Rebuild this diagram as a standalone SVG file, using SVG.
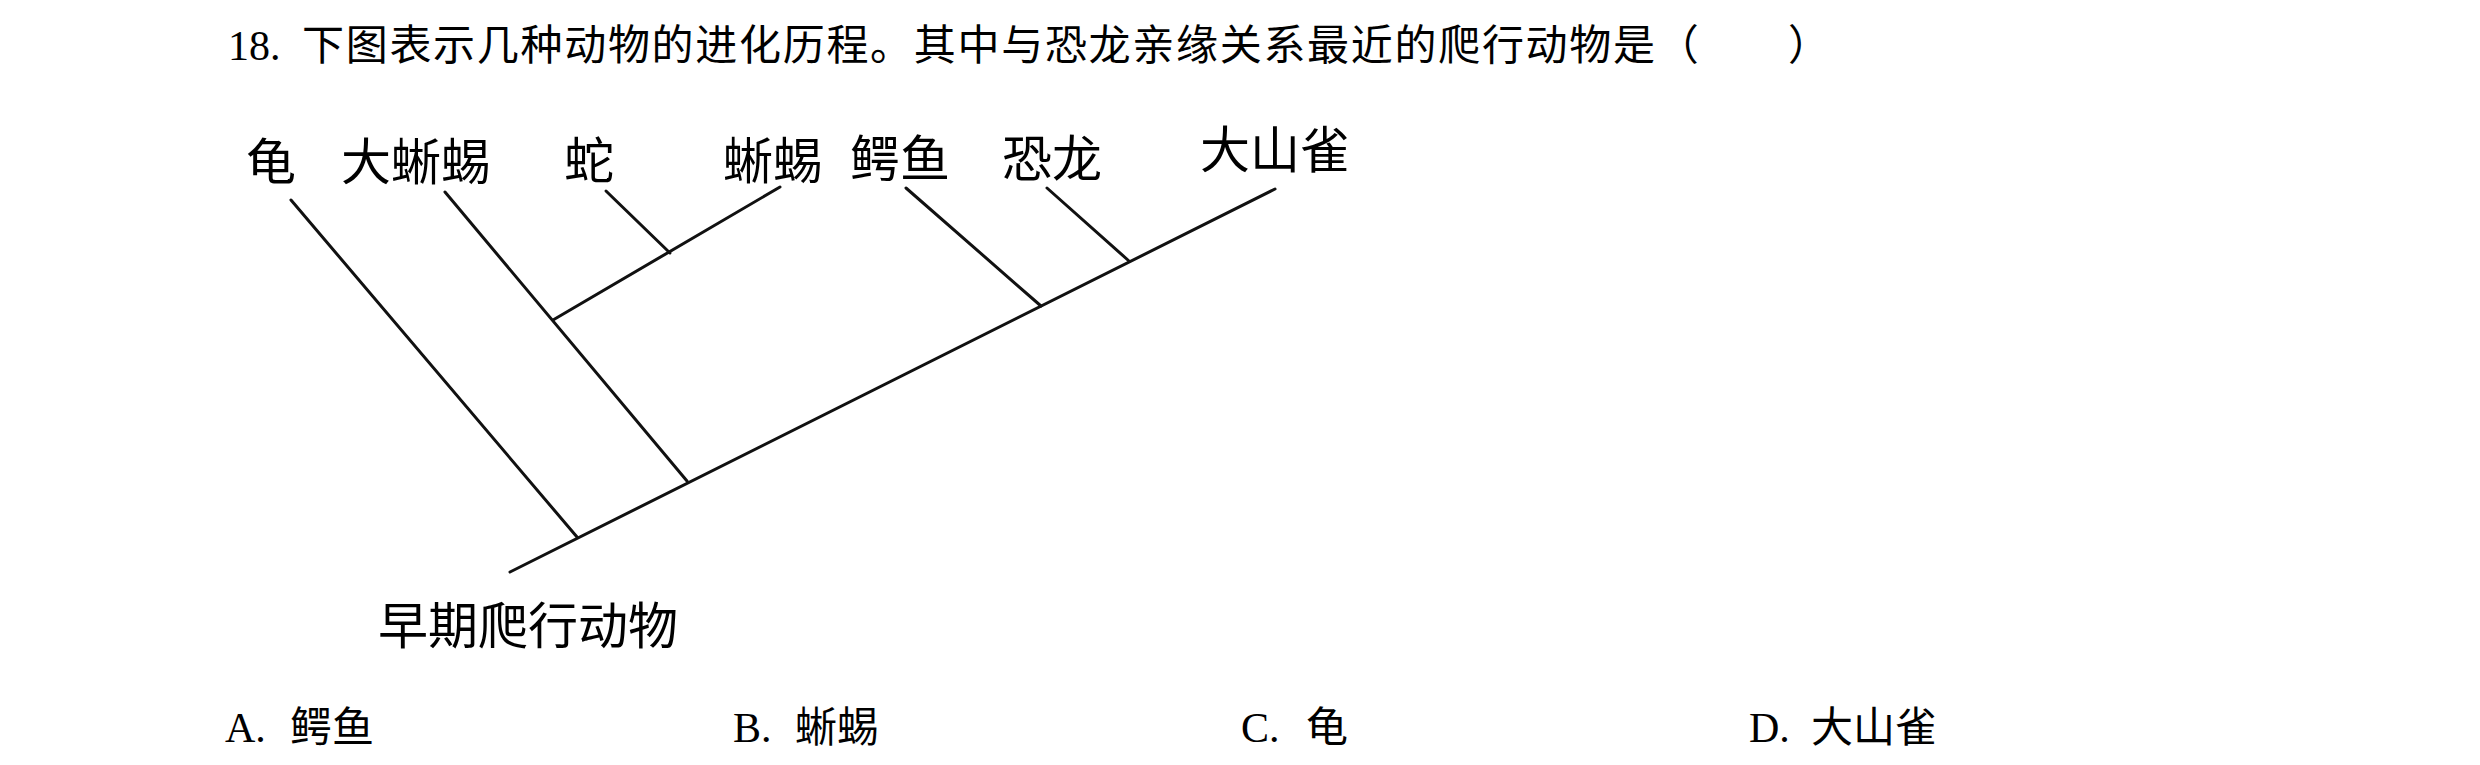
<svg xmlns="http://www.w3.org/2000/svg" width="2480" height="765" viewBox="0 0 2480 765">
<style>
.q{font-family:"Liberation Serif","Noto Sans CJK SC",serif;font-size:42px;fill:#000}
.cj{letter-spacing:1.7px}
.lb{font-family:"Noto Sans CJK SC","Noto Sans CJK TC",sans-serif;font-size:50px;font-weight:400;fill:#000}
.ln{stroke:#111;stroke-width:3;stroke-linecap:round;fill:none}
</style>
<rect width="2480" height="765" fill="#fff"/>
<g id="title">
<text class="q" x="228" y="60">18.</text>
<text class="q cj" x="302" y="60">下图表示几种动物的进化历程。其中与恐龙亲缘关系最近的爬行动物是（</text>
<text class="q" x="1788" y="60">）</text>
</g>
<g id="connectors">
<line class="ln" x1="510" y1="572" x2="1275" y2="189"/>
<line class="ln" x1="291" y1="200" x2="577" y2="537"/>
<line class="ln" x1="445" y1="192" x2="687" y2="481"/>
<line class="ln" x1="553" y1="320" x2="780" y2="187"/>
<line class="ln" x1="606" y1="191" x2="670" y2="253"/>
<line class="ln" x1="906" y1="188" x2="1041" y2="306"/>
<line class="ln" x1="1047" y1="188" x2="1129" y2="261"/>
</g>
<g id="node-gui"><text class="lb" x="246" y="180">龟</text></g>
<g id="node-daxiyi"><text class="lb" x="341" y="180">大蜥蜴</text></g>
<g id="node-she"><text class="lb" x="564" y="179">蛇</text></g>
<g id="node-xiyi"><text class="lb" x="723" y="179">蜥蜴</text></g>
<g id="node-eyu"><text class="lb" x="850" y="177">鳄鱼</text></g>
<g id="node-konglong"><text class="lb" x="1002" y="177">恐龙</text></g>
<g id="node-dashanque"><text class="lb" x="1200" y="168">大山雀</text></g>
<g id="node-root"><text class="lb" x="378" y="644">早期爬行动物</text></g>
<g id="options">
<text class="q" x="225" y="742">A.</text><text class="q" x="290" y="742">鳄鱼</text>
<text class="q" x="733" y="742">B.</text><text class="q" x="795" y="742">蜥蜴</text>
<text class="q" x="1241" y="742">C.</text><text class="q" x="1306" y="742">龟</text>
<text class="q" x="1749" y="742">D.</text><text class="q" x="1811" y="742">大山雀</text>
</g>
</svg>
